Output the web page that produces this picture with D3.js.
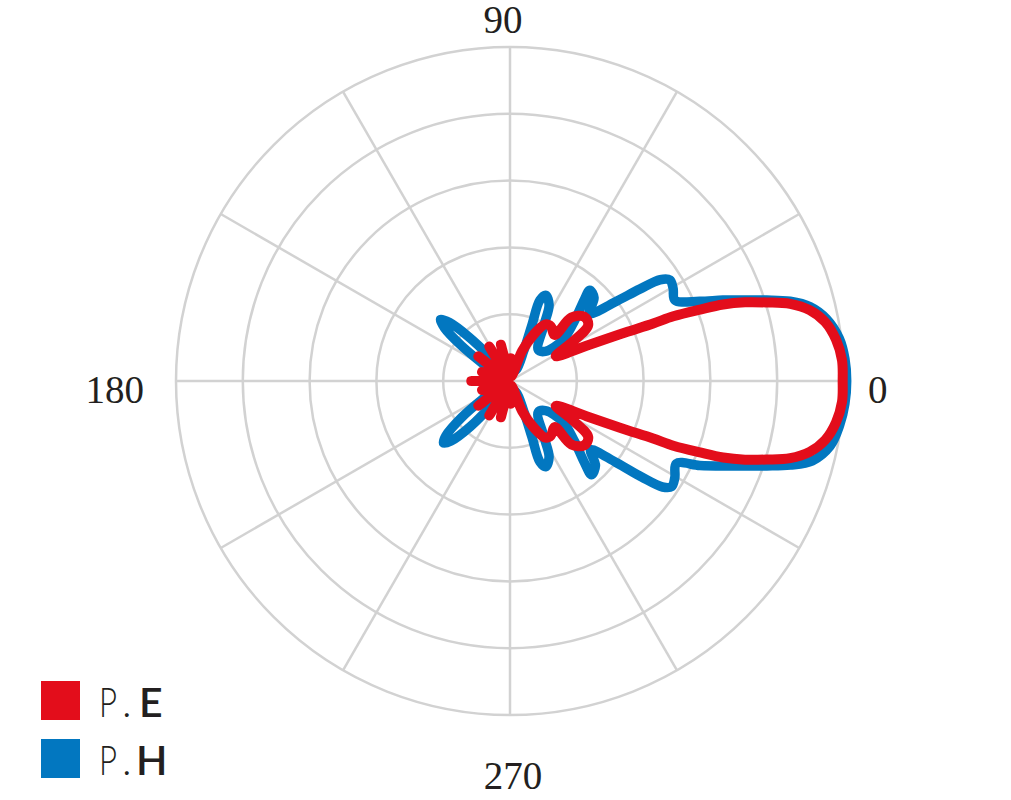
<!DOCTYPE html>
<html>
<head>
<meta charset="utf-8">
<script src="https://cdn.jsdelivr.net/npm/d3@7"></script>
<style>
  html, body { margin: 0; padding: 0; background: #ffffff; }
  svg { display: block; }
</style>
</head>
<body>
<svg id="chart" width="1011" height="800"></svg>
<script>
// ---- data (angle in degrees, counter-clockwise from 0; level in dB) ----
const ringLevels = [-40, -30, -20, -10, 0];
const spokeAngles = [0, 30, 60, 90, 120, 150, 180, 210, 240, 270, 300, 330];
const angleLabels = ["0", "90", "180", "270"];
const labelAngles = [0, 90, 180, 270];
const seriesNames = ["P.E", "P.H"];

// E-plane (red)
const eAngles = [
  0, 3.6, 7.2, 10.6, 13.3, 15.4, 17.0, 18.5, 19.75, 20.6, 21.6, 21.9, 23.0, 24.7, 28.5,
  31.8, 35.6, 41, 46, 46,
  53, 58, 63, 68, 76,
  88, 96, 104, 112, 121, 131, 142, 152, 162, 171, 180,
  189, 198, 208, 218, 229, 239, 248, 256, 264, 272, 284,
  292, 297, 302, 307,
  314, 314, 319, 324.4, 328.2,
  331.5, 335.3, 337, 338.1, 338.4, 339.4, 340.25, 341.5, 343, 344.6, 346.7, 349.4, 352.8, 356.4
];
const eValues = [
  -0.2, -0.2, -0.8, -2.0, -3.9, -6.5, -9.8, -12.9, -16.1, -19.6, -23.7, -26.9, -32.0, -37.4, -42.2,
  -39.2, -35.6, -35.3, -36.8, -40.4,
  -39.8, -40.0, -42.2, -45.1, -49.3,
  -46.6, -49.3, -44.4, -49.0, -44.0, -49.0, -44.0, -49.0, -45.6, -49.0, -44.2,
  -49.0, -45.6, -49.0, -44.0, -49.0, -44.0, -49.0, -44.4, -49.3, -46.6, -49.3,
  -45.1, -42.2, -40.0, -39.8,
  -40.4, -36.8, -35.3, -35.6, -39.2,
  -42.2, -37.4, -32.0, -26.9, -23.7, -19.6, -16.1, -12.9, -9.8, -6.5, -3.9, -2.0, -0.8, -0.2
];

// H-plane (blue)
const hAngles = [
  0, 3.8, 7.4, 11.1, 13.9, 15.9, 17.5, 19.0, 20.8, 22.8, 26.1, 29.7, 32.3, 34.0, 35.3,
  37.0, 40.3, 44.7, 48.7, 47.6, 43.2, 37.7, 40, 47.9, 58.7, 62.8, 67.3, 69.7,
  68.6, 65.7, 61.4, 90, 115, 124, 129, 133, 136, 138.5, 141, 144, 148, 153,
  165, 180,
  195, 208, 213, 217, 220.5, 223, 225.5, 229, 233, 238, 245, 270,
  298.6, 294.3, 291.4, 290.3, 292.7, 297.2, 301.3, 312.1, 320, 322.3, 316.8,
  312.4, 311.0, 315.3, 319.5, 322.5, 323.9, 325.2, 326.8, 329.6,
  333.6, 336.0, 338.2, 340.1, 341.7, 343.3, 345.2, 348.5, 352.4, 356.1
];
const hValues = [
  0.4, 0.25, -0.3, -1.7, -3.7, -6.4, -9.7, -12.8, -15.9, -19.2, -22.5, -21.9, -21.7, -22.9, -26.2,
  -30.4, -34.4, -32.3, -31.9, -33.5, -36.7, -40.0, -43.1, -43.7, -40.2, -37.2, -36.1, -37.1,
  -41.0, -44.9, -48.1, -48.8, -48.5, -47.8, -45.5, -41.0, -37.4, -36.1, -37.4, -41.0, -45.5, -47.8,
  -48.8, -49.1,
  -48.8, -47.8, -45.5, -41.0, -37.4, -36.4, -37.4, -41.0, -45.5, -47.8, -48.5, -48.8,
  -48.1, -44.9, -41.0, -37.1, -36.1, -37.2, -40.2, -43.7, -43.1, -40.0, -36.7,
  -33.5, -31.4, -32.0, -34.1, -29.9, -25.6, -22.2, -21.1, -21.4,
  -22.2, -18.9, -15.7, -12.6, -9.5, -6.2, -3.2, -1.1, -0.2, 0.25
];

// ---- drawing ----
const svg = d3.select("#chart");
const cx = 510, cy = 381, R = 334;
const rScale = d3.scaleLinear().domain([-50, 0]).range([0, R]);
const toRad = d => d * Math.PI / 180;

const g = svg.append("g").attr("transform", `translate(${cx},${cy})`);

// grid circles
g.selectAll("circle.ring").data(ringLevels).join("circle")
  .attr("class", "ring")
  .attr("r", d => rScale(d))
  .attr("fill", "none")
  .attr("stroke", "#d2d2d2")
  .attr("stroke-width", 2.5);

// spokes
g.selectAll("line.spoke").data(spokeAngles).join("line")
  .attr("class", "spoke")
  .attr("x1", 0).attr("y1", 0)
  .attr("x2", d => rScale(0) * Math.cos(toRad(d)))
  .attr("y2", d => -rScale(0) * Math.sin(toRad(d)))
  .attr("stroke", "#d2d2d2")
  .attr("stroke-width", 2.5);

// pattern lines
const radial = d3.lineRadial()
  .angle(d => Math.PI / 2 - toRad(d[0]))
  .radius(d => rScale(d[1]))
  .curve(d3.curveCatmullRomClosed.alpha(0.5));

const hData = hAngles.map((a, i) => [a, hValues[i]]);
const eData = eAngles.map((a, i) => [a, eValues[i]]);

const colors = ["#e30d1b", "#0277c0"];

g.append("path").attr("d", radial(hData))
  .attr("fill", "none").attr("stroke", colors[1])
  .attr("stroke-width", 9.5).attr("stroke-linejoin", "round");
g.append("path").attr("d", radial(eData))
  .attr("fill", "none").attr("stroke", colors[0])
  .attr("stroke-width", 10).attr("stroke-linejoin", "round");

// angle labels
const labelFont = "'Liberation Serif', 'Times New Roman', serif";
labelAngles.forEach((a, i) => {
  let x, y, anchor;
  if (a === 0) { x = cx + R + 24; y = cy + 22; anchor = "start"; }
  else if (a === 180) { x = cx - R - 32; y = cy + 22; anchor = "end"; }
  else if (a === 90) { x = cx - 7; y = cy - R - 14; anchor = "middle"; }
  else { x = cx + 3; y = cy + R + 74; anchor = "middle"; }
  svg.append("text")
    .attr("x", x).attr("y", y)
    .attr("text-anchor", anchor)
    .attr("font-family", labelFont)
    .attr("font-size", 39)
    .attr("fill", "#231f20")
    .text(angleLabels[i]);
});

// legend
const legendFont = "Lato, 'Open Sans', sans-serif";
seriesNames.forEach((name, i) => {
  const top = 681 + i * 58;
  svg.append("rect")
    .attr("x", 41).attr("y", top).attr("width", 39).attr("height", 39)
    .attr("fill", colors[i]);
  const base = top + 36;
  const parts = name.split(".");
  svg.append("text")
    .attr("x", 99).attr("y", base)
    .attr("font-family", legendFont).attr("font-weight", 300)
    .attr("font-size", 41).attr("fill", "#231f20")
    .attr("textLength", 18).attr("lengthAdjust", "spacingAndGlyphs")
    .text(parts[0]);
  svg.append("text")
    .attr("x", 122).attr("y", base)
    .attr("font-family", legendFont).attr("font-weight", 300)
    .attr("font-size", 41).attr("fill", "#231f20")
    .text(".");
  svg.append("text")
    .attr("x", i === 0 ? 139 : 136).attr("y", base)
    .attr("font-family", legendFont).attr("font-weight", 600)
    .attr("font-size", 41).attr("fill", "#231f20")
    .text(parts[1]);
});
</script>
</body>
</html>
